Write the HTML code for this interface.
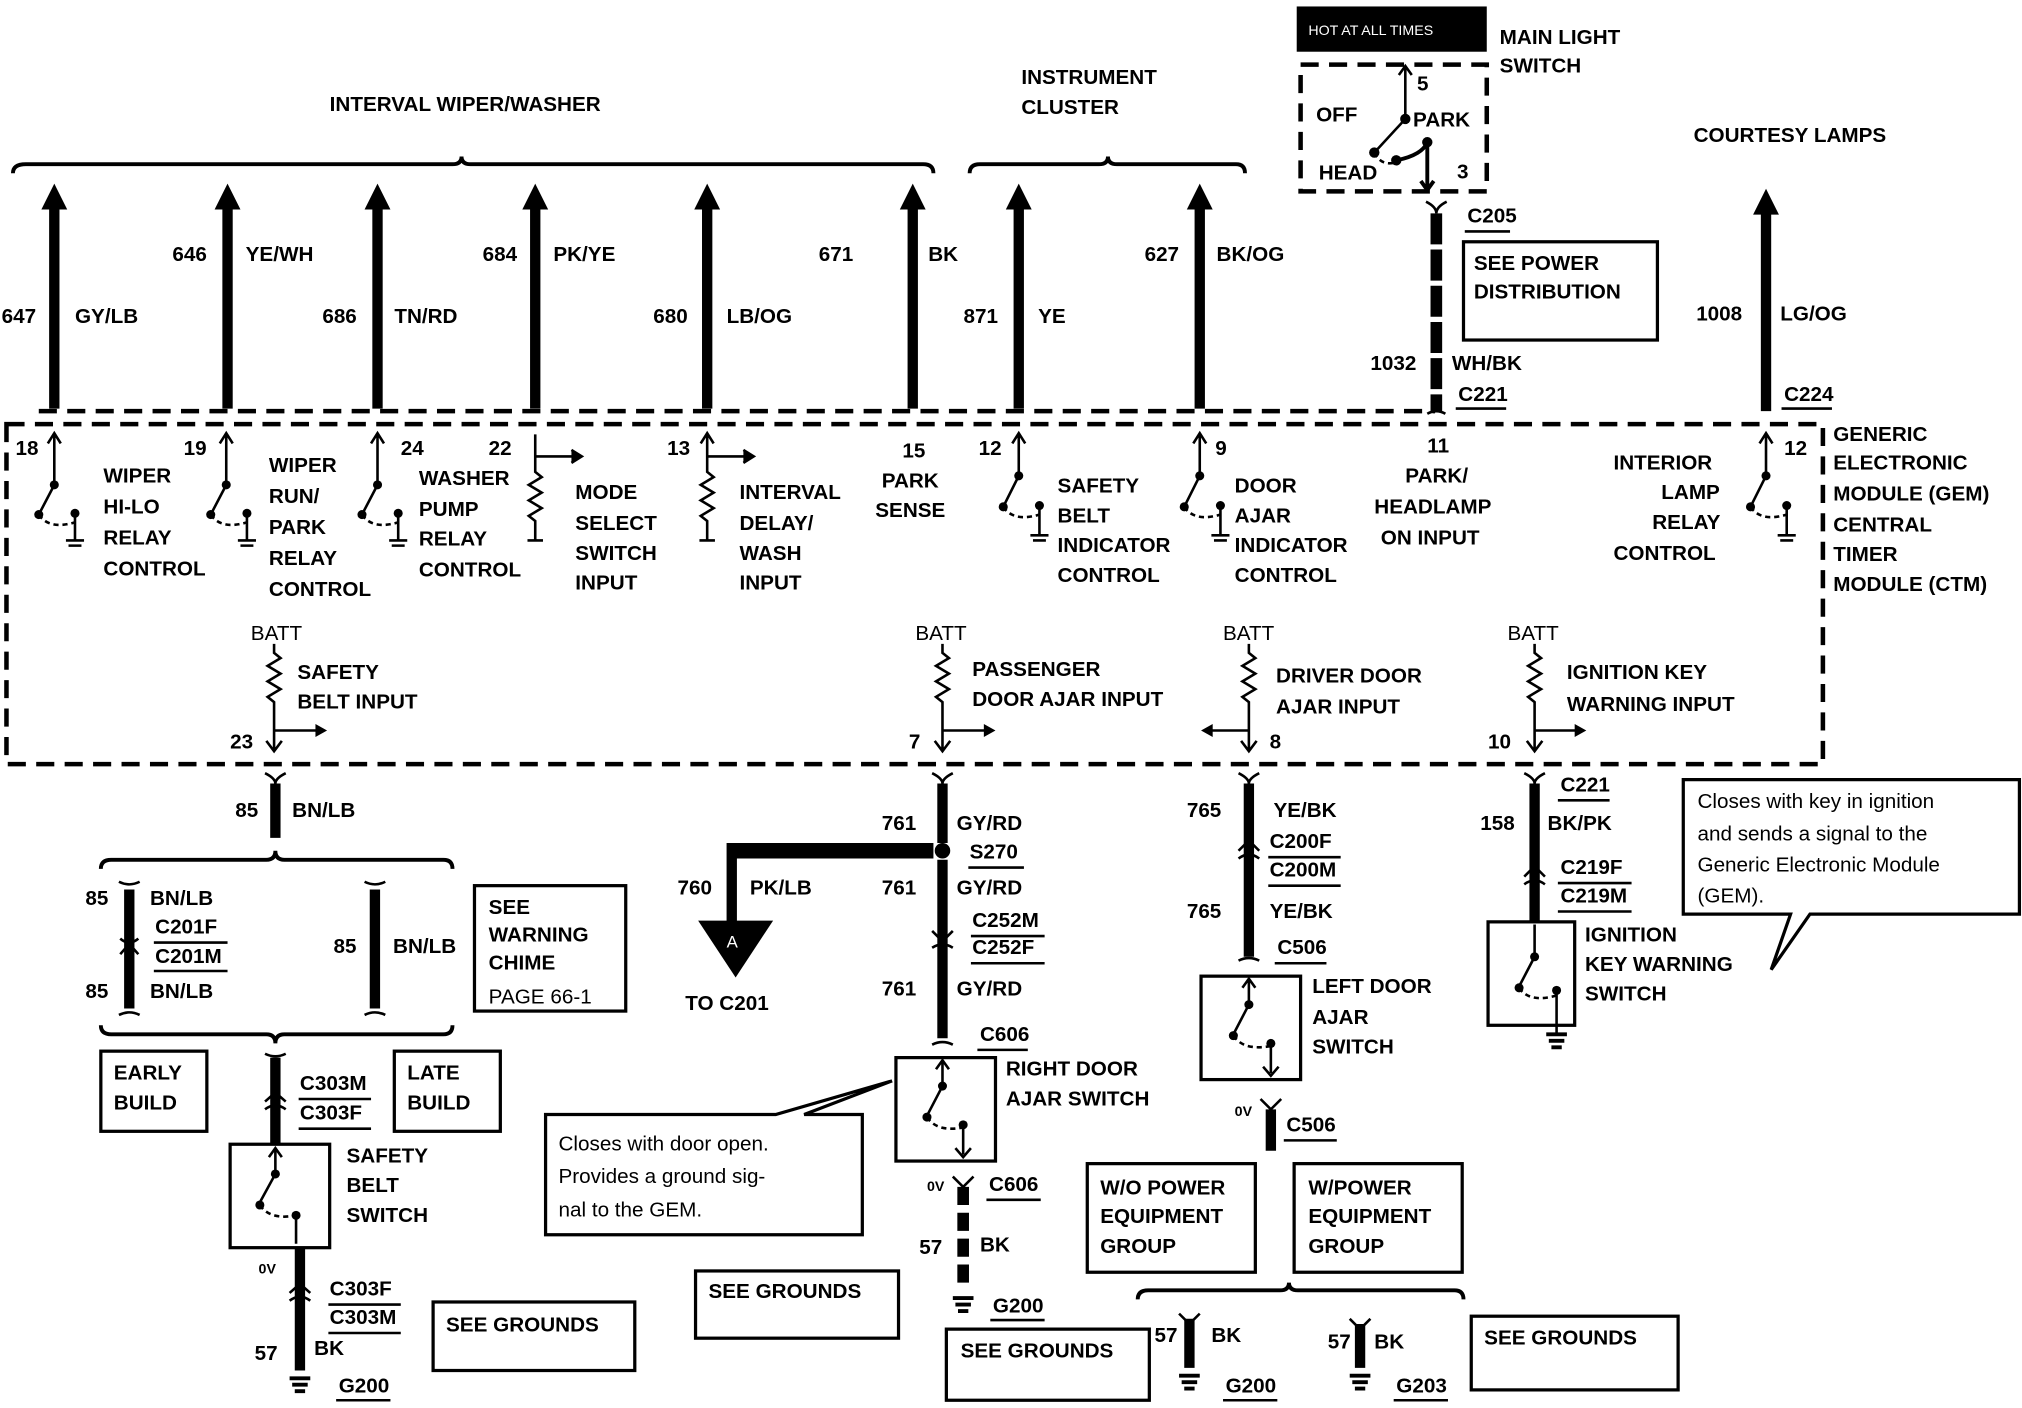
<!DOCTYPE html>
<html><head><meta charset="utf-8"><style>
html,body{margin:0;padding:0;background:#fff;}
svg{display:block;}
text{font-family:"Liberation Sans",sans-serif;font-weight:bold;font-size:16px;fill:#000;}
.r{font-weight:normal;font-size:16px;}
.w{stroke:#000;stroke-width:8;fill:none;}
.t{stroke:#000;stroke-width:2;fill:none;}
.b{stroke:#000;stroke-width:3;fill:none;}
.box{stroke:#000;stroke-width:2.5;fill:#fff;}
.d{stroke:#000;stroke-width:3.5;fill:none;stroke-dasharray:14 8;}
</style></head><body>
<svg width="2022" height="1408" viewBox="0 0 1564 1089" preserveAspectRatio="none" xmlns="http://www.w3.org/2000/svg">
<rect width="1564" height="1089" fill="#fff"/>

<!-- top brackets -->
<text x="255" y="86">INTERVAL WIPER/WASHER</text>
<path class="b" d="M10,134 Q10,127 20,127 L350,127 Q357,127 357,121 Q357,127 364,127 L714,127 Q722,127 722,134"/>
<text x="790" y="65">INSTRUMENT</text>
<text x="790" y="88">CLUSTER</text>
<path class="b" d="M750,134 Q750,127 758,127 L850,127 Q857,127 857,121 Q857,127 864,127 L956,127 Q963,127 963,134"/>

<!-- main light switch -->
<rect x="1003" y="5" width="147" height="35" fill="#000"/>
<text x="1012" y="27" style="fill:#fff;font-size:11px;font-weight:normal">HOT AT ALL TIMES</text>
<text x="1160" y="34">MAIN LIGHT</text>
<text x="1160" y="56">SWITCH</text>
<rect x="1006" y="50" width="144" height="98" class="d"/>
<text x="1018" y="94">OFF</text>
<text x="1093" y="98">PARK</text>
<text x="1020" y="139">HEAD</text>
<text x="1096" y="70">5</text>
<text x="1127" y="138">3</text>
<path class="t" d="M1087,92 L1087,52 M1082,58 L1087,51 L1092,58 M1087,92 L1064,117"/>
<circle cx="1087" cy="92" r="4"/><circle cx="1063" cy="118" r="4"/><circle cx="1080" cy="124" r="4"/><circle cx="1104" cy="110" r="4"/>
<path class="t" stroke-dasharray="4 3" d="M1063,118 Q1068,128 1078,126"/>
<path class="b" d="M1080,124 Q1100,120 1104,110 L1104,146 M1099,140 L1104,147 L1109,140"/>

<!-- C205 / 1032 wire -->
<path class="t" d="M1103,156 Q1111,160 1111,165 Q1111,160 1119,156"/>
<line x1="1111" y1="165" x2="1111" y2="318" stroke="#000" stroke-width="9" stroke-dasharray="24 4"/>
<path class="t" d="M1104,320 Q1111,316 1118,320"/>
<text x="1135" y="172">C205</text><line x1="1133" y1="179" x2="1168" y2="179" class="t"/>
<rect x="1132" y="187" width="150" height="76" class="box"/>
<text x="1140" y="209">SEE POWER</text>
<text x="1140" y="231">DISTRIBUTION</text>
<text x="1060" y="286">1032</text>
<text x="1123" y="286">WH/BK</text>
<text x="1128" y="310">C221</text><line x1="1126" y1="316" x2="1165" y2="316" class="t"/>

<!-- courtesy -->
<text x="1310" y="110">COURTESY LAMPS</text>
<line x1="1366" y1="160" x2="1366" y2="318" class="w"/>
<path d="M1356,166 L1366,146 L1376,166 Z"/>
<text x="1312" y="248">1008</text>
<text x="1377" y="248">LG/OG</text>
<text x="1380" y="310">C224</text><line x1="1378" y1="316" x2="1417" y2="316" class="t"/>

<!-- main up wires -->
<g>
<line x1="42" y1="158" x2="42" y2="316" class="w"/><path d="M32,162 L42,142 L52,162 Z"/>
<line x1="176" y1="158" x2="176" y2="316" class="w"/><path d="M166,162 L176,142 L186,162 Z"/>
<line x1="292" y1="158" x2="292" y2="316" class="w"/><path d="M282,162 L292,142 L302,162 Z"/>
<line x1="414" y1="158" x2="414" y2="316" class="w"/><path d="M404,162 L414,142 L424,162 Z"/>
<line x1="547" y1="158" x2="547" y2="316" class="w"/><path d="M537,162 L547,142 L557,162 Z"/>
<line x1="706" y1="158" x2="706" y2="316" class="w"/><path d="M696,162 L706,142 L716,162 Z"/>
<line x1="788" y1="158" x2="788" y2="316" class="w"/><path d="M778,162 L788,142 L798,162 Z"/>
<line x1="928" y1="158" x2="928" y2="316" class="w"/><path d="M918,162 L928,142 L938,162 Z"/>
</g>
<text x="28" y="250" text-anchor="end">647</text><text x="58" y="250">GY/LB</text>
<text x="160" y="202" text-anchor="end">646</text><text x="190" y="202">YE/WH</text>
<text x="276" y="250" text-anchor="end">686</text><text x="305" y="250">TN/RD</text>
<text x="400" y="202" text-anchor="end">684</text><text x="428" y="202">PK/YE</text>
<text x="532" y="250" text-anchor="end">680</text><text x="562" y="250">LB/OG</text>
<text x="660" y="202" text-anchor="end">671</text><text x="718" y="202">BK</text>
<text x="772" y="250" text-anchor="end">871</text><text x="803" y="250">YE</text>
<text x="912" y="202" text-anchor="end">627</text><text x="941" y="202">BK/OG</text>

<line x1="30" y1="318" x2="1110" y2="318" class="d"/>
<!-- GEM box -->
<rect x="5" y="328" width="1405" height="263" class="d"/>

<!-- relay controls -->
<g class="t">
<path d="M42,375 L42,336 M37,343 L42,335 L47,343 M42,375 L30,398"/>
<path d="M175,375 L175,336 M170,343 L175,335 L180,343 M175,375 L163,398"/>
<path d="M292,375 L292,336 M287,343 L292,335 L297,343 M292,375 L280,398"/>
<path d="M788,368 L788,336 M783,343 L788,335 L793,343 M788,368 L776,392"/>
<path d="M928,368 L928,336 M923,343 L928,335 L933,343 M928,368 L916,392"/>
<path d="M1366,368 L1366,336 M1361,343 L1366,335 L1371,343 M1366,368 L1354,392"/>
<path stroke-dasharray="4 3" d="M30,398 Q38,410 58,404 M163,398 Q171,410 191,404 M280,398 Q288,410 308,404 M776,392 Q784,404 804,398 M916,392 Q924,404 944,398 M1354,392 Q1362,404 1382,398"/>
<path d="M58,397 L58,418 M191,397 L191,418 M308,397 L308,418 M804,391 L804,414 M944,391 L944,414 M1382,391 L1382,414"/>
</g>
<g>
<circle cx="42" cy="375" r="3.5"/><circle cx="30" cy="398" r="3.5"/><circle cx="58" cy="397" r="3.5"/><path d="M51,418 h14 M53,422 h10"  class="t"/>
<circle cx="175" cy="375" r="3.5"/><circle cx="163" cy="398" r="3.5"/><circle cx="191" cy="397" r="3.5"/><path d="M184,418 h14 M186,422 h10" class="t"/>
<circle cx="292" cy="375" r="3.5"/><circle cx="280" cy="398" r="3.5"/><circle cx="308" cy="397" r="3.5"/><path d="M301,418 h14 M303,422 h10" class="t"/>
<circle cx="788" cy="368" r="3.5"/><circle cx="776" cy="392" r="3.5"/><circle cx="804" cy="391" r="3.5"/><path d="M797,414 h14 M799,418 h10" class="t"/>
<circle cx="928" cy="368" r="3.5"/><circle cx="916" cy="392" r="3.5"/><circle cx="944" cy="391" r="3.5"/><path d="M937,414 h14 M939,418 h10" class="t"/>
<circle cx="1366" cy="368" r="3.5"/><circle cx="1354" cy="392" r="3.5"/><circle cx="1382" cy="391" r="3.5"/><path d="M1375,414 h14 M1377,418 h10" class="t"/>
</g>
<text x="12" y="352">18</text>
<text x="80" y="373">WIPER</text><text x="80" y="397">HI-LO</text><text x="80" y="421">RELAY</text><text x="80" y="445">CONTROL</text>
<text x="142" y="352">19</text>
<text x="208" y="365">WIPER</text><text x="208" y="389">RUN/</text><text x="208" y="413">PARK</text><text x="208" y="437">RELAY</text><text x="208" y="461">CONTROL</text>
<text x="310" y="352">24</text>
<text x="324" y="375">WASHER</text><text x="324" y="399">PUMP</text><text x="324" y="422">RELAY</text><text x="324" y="446">CONTROL</text>

<!-- inputs with resistor -->
<g class="t">
<path d="M414,336 L414,365 l5,4 l-10,6 l10,6 l-10,6 l10,6 l-10,6 l5,4 L414,418 M408,418 h12 M414,353 L448,353"/>
<path d="M442,348 L450,353 L442,358" fill="#000"/>
<path d="M547,336 L547,365 l5,4 l-10,6 l10,6 l-10,6 l10,6 l-10,6 l5,4 L547,418 M541,418 h12 M547,353 L581,353 M542,343 L547,335 L552,343"/>
<path d="M575,348 L583,353 L575,358" fill="#000"/>
</g>
<text x="378" y="352">22</text>
<text x="445" y="386">MODE</text><text x="445" y="410">SELECT</text><text x="445" y="433">SWITCH</text><text x="445" y="456">INPUT</text>
<text x="516" y="352">13</text>
<text x="572" y="386">INTERVAL</text><text x="572" y="410">DELAY/</text><text x="572" y="433">WASH</text><text x="572" y="456">INPUT</text>
<text x="698" y="354">15</text><text x="682" y="377">PARK</text><text x="677" y="400">SENSE</text>
<text x="757" y="352">12</text>
<text x="818" y="381">SAFETY</text><text x="818" y="404">BELT</text><text x="818" y="427">INDICATOR</text><text x="818" y="450">CONTROL</text>
<text x="940" y="352">9</text>
<text x="955" y="381">DOOR</text><text x="955" y="404">AJAR</text><text x="955" y="427">INDICATOR</text><text x="955" y="450">CONTROL</text>
<text x="1104" y="350">11</text><text x="1087" y="373">PARK/</text><text x="1063" y="397">HEADLAMP</text><text x="1068" y="421">ON  INPUT</text>
<text x="1248" y="363">INTERIOR</text><text x="1285" y="386">LAMP</text><text x="1278" y="409">RELAY</text><text x="1248" y="433">CONTROL</text>
<text x="1380" y="352">12</text>
<text x="1418" y="341">GENERIC</text><text x="1418" y="363">ELECTRONIC</text><text x="1418" y="387">MODULE (GEM)</text><text x="1418" y="411">CENTRAL</text><text x="1418" y="434">TIMER</text><text x="1418" y="457">MODULE (CTM)</text>

<!-- BATT inputs -->
<g class="t">
<path d="M212,498 L212,505 l5,4 l-10,6 l10,6 l-10,6 l10,6 l-10,6 l5,4 L212,580 M206,573 L212,581 L218,573 M212,565 L246,565"/>
<path d="M729,498 L729,505 l5,4 l-10,6 l10,6 l-10,6 l10,6 l-10,6 l5,4 L729,580 M723,573 L729,581 L735,573 M729,565 L763,565"/>
<path d="M966,498 L966,505 l5,4 l-10,6 l10,6 l-10,6 l10,6 l-10,6 l5,4 L966,580 M960,573 L966,581 L972,573 M966,565 L936,565"/>
<path d="M1187,498 L1187,505 l5,4 l-10,6 l10,6 l-10,6 l10,6 l-10,6 l5,4 L1187,580 M1181,573 L1187,581 L1193,573 M1187,565 L1220,565"/>
</g>
<path d="M244,560 L253,565 L244,570 Z M761,560 L770,565 L761,570 Z M938,560 L929,565 L938,570 Z M1218,560 L1227,565 L1218,570 Z"/>
<text x="194" y="495" class="r">BATT</text><text x="708" y="495" class="r">BATT</text><text x="946" y="495" class="r">BATT</text><text x="1166" y="495" class="r">BATT</text>
<text x="230" y="525">SAFETY</text><text x="230" y="548">BELT INPUT</text><text x="178" y="579">23</text>
<text x="752" y="523">PASSENGER</text><text x="752" y="546">DOOR AJAR INPUT</text><text x="703" y="579">7</text>
<text x="987" y="528">DRIVER DOOR</text><text x="987" y="552">AJAR INPUT</text><text x="982" y="579">8</text>
<text x="1212" y="525">IGNITION KEY</text><text x="1212" y="550">WARNING INPUT</text><text x="1151" y="579">10</text>

<!-- safety belt section -->
<path class="t" d="M205,598 Q213,602 213,606 Q213,602 221,598"/>
<line x1="213" y1="606" x2="213" y2="648" class="w"/>
<text x="182" y="632">85</text><text x="226" y="632">BN/LB</text>
<path class="b" d="M78,672 Q78,665 86,665 L206,665 Q213,665 213,658 Q213,665 220,665 L343,665 Q350,665 350,672"/>
<line x1="100" y1="688" x2="100" y2="780" class="w"/>
<path class="t" d="M92,682 Q100,686 108,682 M92,785 Q100,781 108,785 M93,738 L100,730 L107,738 M93,726 Q100,732 107,726" stroke-width="3"/>
<text x="66" y="700">85</text><text x="116" y="700">BN/LB</text>
<text x="120" y="722">C201F</text><line x1="119" y1="729" x2="176" y2="729" class="t"/>
<text x="120" y="745">C201M</text><line x1="119" y1="751" x2="176" y2="751" class="t"/>
<text x="66" y="772">85</text><text x="116" y="772">BN/LB</text>
<line x1="290" y1="688" x2="290" y2="780" class="w"/>
<path class="t" d="M282,682 Q290,686 298,682 M282,785 Q290,781 298,785" stroke-width="3"/>
<text x="258" y="737">85</text><text x="304" y="737">BN/LB</text>
<rect x="367" y="685" width="117" height="97" class="box"/>
<text x="378" y="707">SEE</text><text x="378" y="728">WARNING</text><text x="378" y="750">CHIME</text><text x="378" y="776" class="r">PAGE 66-1</text>
<path class="b" d="M78,793 Q78,800 86,800 L206,800 Q213,800 213,807 Q213,800 220,800 L343,800 Q350,800 350,793"/>
<rect x="78" y="813" width="82" height="62" class="box"/><text x="88" y="835">EARLY</text><text x="88" y="858">BUILD</text>
<rect x="305" y="813" width="82" height="62" class="box"/><text x="315" y="835">LATE</text><text x="315" y="858">BUILD</text>
<line x1="213" y1="818" x2="213" y2="885" class="w"/>
<path class="t" d="M205,815 Q213,819 221,815 M205,852 L213,845 L221,852 M205,858 Q213,852 221,858" stroke-width="3"/>
<text x="232" y="843">C303M</text><line x1="231" y1="850" x2="287" y2="850" class="t"/>
<text x="232" y="866">C303F</text><line x1="231" y1="873" x2="287" y2="873" class="t"/>
<rect x="178" y="885" width="77" height="80" class="box" stroke-width="3"/>
<g class="t"><path d="M213,888 L213,908 L201,930 M208,895 L213,888 L218,895 M229,940 L229,962"/><path stroke-dasharray="4 3" d="M201,932 Q209,944 229,940"/></g>
<circle cx="213" cy="908" r="3.5"/><circle cx="201" cy="932" r="3.5"/><circle cx="229" cy="940" r="3.5"/>
<text x="268" y="899">SAFETY</text><text x="268" y="922">BELT</text><text x="268" y="945">SWITCH</text>
<line x1="232" y1="965" x2="232" y2="1060" class="w"/>
<path class="t" d="M224,1000 L232,993 L240,1000 M224,1006 Q232,1000 240,1006" stroke-width="3"/>
<text x="200" y="985" style="font-size:11px">0V</text>
<text x="255" y="1002">C303F</text><line x1="254" y1="1009" x2="310" y2="1009" class="t"/>
<text x="255" y="1024">C303M</text><line x1="254" y1="1031" x2="310" y2="1031" class="t"/>
<text x="197" y="1052">57</text><text x="243" y="1048">BK</text>
<path d="M224,1066 h16 M226,1071 h12 M228,1076 h8" class="b"/>
<text x="262" y="1077">G200</text><line x1="260" y1="1083" x2="302" y2="1083" class="t"/>
<rect x="335" y="1007" width="156" height="53" class="box"/><text x="345" y="1030">SEE GROUNDS</text>

<!-- right door -->
<path class="t" d="M721,598 Q729,602 729,606 Q729,602 737,598"/>
<line x1="729" y1="606" x2="729" y2="652" class="w"/>
<circle cx="729" cy="658" r="6"/>
<line x1="729" y1="665" x2="729" y2="803" class="w"/>
<path class="t" d="M721,720 L729,728 L737,720 M721,733 Q729,728 737,733 M721,808 Q729,804 737,808" stroke-width="3"/>
<line x1="722" y1="658" x2="566" y2="658" stroke="#000" stroke-width="12"/>
<line x1="566" y1="652" x2="566" y2="714" class="w"/>
<path d="M540,712 L598,712 L569,756 Z"/>
<text x="562" y="733" style="fill:#fff;font-weight:normal;font-size:13px">A</text>
<text x="682" y="642">761</text><text x="740" y="642">GY/RD</text>
<text x="750" y="664">S270</text><line x1="749" y1="671" x2="792" y2="671" class="t"/>
<text x="524" y="692">760</text><text x="580" y="692">PK/LB</text><text x="530" y="781">TO C201</text>
<text x="682" y="692">761</text><text x="740" y="692">GY/RD</text>
<text x="752" y="717">C252M</text><line x1="751" y1="724" x2="808" y2="724" class="t"/>
<text x="752" y="738">C252F</text><line x1="751" y1="745" x2="808" y2="745" class="t"/>
<text x="682" y="770">761</text><text x="740" y="770">GY/RD</text>
<text x="758" y="805">C606</text><line x1="756" y1="812" x2="795" y2="812" class="t"/>
<rect x="693" y="818" width="77" height="80" class="box" stroke-width="3"/>
<g class="t"><path d="M729,820 L729,840 L717,863 M724,827 L729,820 L734,827 M745,870 L745,893 M739,888 L745,895 L751,888"/><path stroke-dasharray="4 3" d="M717,864 Q725,876 745,872"/></g>
<circle cx="729" cy="840" r="3.5"/><circle cx="717" cy="864" r="3.5"/><circle cx="745" cy="870" r="3.5"/>
<text x="778" y="832">RIGHT DOOR</text><text x="778" y="855">AJAR SWITCH</text>
<text x="717" y="921" style="font-size:11px">0V</text>
<path class="t" d="M737,910 L745,918 L753,910" stroke-width="3"/>
<line x1="745" y1="918" x2="745" y2="998" stroke="#000" stroke-width="9" stroke-dasharray="14 6"/>
<text x="765" y="921">C606</text><line x1="763" y1="928" x2="805" y2="928" class="t"/>
<text x="711" y="970">57</text><text x="758" y="968">BK</text>
<path d="M737,1004 h16 M739,1009 h12 M741,1014 h8" class="b"/>
<text x="768" y="1015">G200</text><line x1="766" y1="1021" x2="808" y2="1021" class="t"/>
<path d="M422,862 L600,862 L690,836 L622,862 L667,862 L667,955 L422,955 Z" class="box"/>
<text x="432" y="890" class="r">Closes with door open.</text>
<text x="432" y="915" class="r">Provides a ground sig-</text>
<text x="432" y="941" class="r">nal to the GEM.</text>
<rect x="538" y="983" width="157" height="52" class="box"/><text x="548" y="1004">SEE GROUNDS</text>
<rect x="732" y="1028" width="157" height="55" class="box"/><text x="743" y="1050">SEE GROUNDS</text>

<!-- left door -->
<path class="t" d="M958,598 Q966,602 966,606 Q966,602 974,598"/>
<line x1="966" y1="606" x2="966" y2="740" class="w"/>
<path class="t" d="M958,658 L966,650 L974,658 M958,664 Q966,658 974,664 M958,743 Q966,739 974,743" stroke-width="3"/>
<text x="918" y="632">765</text><text x="985" y="632">YE/BK</text>
<text x="982" y="656">C200F</text><line x1="981" y1="663" x2="1037" y2="663" class="t"/>
<text x="982" y="678">C200M</text><line x1="981" y1="685" x2="1037" y2="685" class="t"/>
<text x="918" y="710">765</text><text x="982" y="710">YE/BK</text>
<text x="988" y="738">C506</text><line x1="986" y1="745" x2="1026" y2="745" class="t"/>
<rect x="929" y="755" width="77" height="80" class="box" stroke-width="3"/>
<g class="t"><path d="M966,757 L966,777 L954,800 M961,764 L966,757 L971,764 M983,807 L983,830 M977,825 L983,832 L989,825"/><path stroke-dasharray="4 3" d="M954,801 Q962,813 983,809"/></g>
<circle cx="966" cy="777" r="3.5"/><circle cx="954" cy="801" r="3.5"/><circle cx="983" cy="807" r="3.5"/>
<text x="1015" y="768">LEFT DOOR</text><text x="1015" y="792">AJAR</text><text x="1015" y="815">SWITCH</text>
<text x="955" y="863" style="font-size:11px">0V</text>
<path class="t" d="M975,850 L983,858 L991,850" stroke-width="3"/>
<line x1="983" y1="858" x2="983" y2="890" class="w"/>
<text x="995" y="875">C506</text><line x1="993" y1="882" x2="1034" y2="882" class="t"/>
<rect x="841" y="900" width="130" height="84" class="box"/>
<text x="851" y="924">W/O POWER</text><text x="851" y="946">EQUIPMENT</text><text x="851" y="969">GROUP</text>
<rect x="1001" y="900" width="130" height="84" class="box"/>
<text x="1012" y="924">W/POWER</text><text x="1012" y="946">EQUIPMENT</text><text x="1012" y="969">GROUP</text>
<path class="b" d="M880,1005 Q880,998 888,998 L990,998 Q997,998 997,992 Q997,998 1004,998 L1125,998 Q1132,998 1132,1005"/>
<line x1="920" y1="1020" x2="920" y2="1058" class="w"/>
<path class="t" d="M912,1016 L920,1024 L928,1016" stroke-width="3"/>
<text x="893" y="1038">57</text><text x="937" y="1038">BK</text>
<path d="M912,1064 h16 M914,1069 h12 M916,1074 h8" class="b"/>
<text x="948" y="1077">G200</text><line x1="946" y1="1083" x2="988" y2="1083" class="t"/>
<line x1="1052" y1="1024" x2="1052" y2="1058" class="w"/>
<path class="t" d="M1044,1020 L1052,1028 L1060,1020" stroke-width="3"/>
<text x="1027" y="1043">57</text><text x="1063" y="1043">BK</text>
<path d="M1044,1064 h16 M1046,1069 h12 M1048,1074 h8" class="b"/>
<text x="1080" y="1077">G203</text><line x1="1078" y1="1083" x2="1120" y2="1083" class="t"/>
<rect x="1138" y="1018" width="160" height="57" class="box"/><text x="1148" y="1040">SEE GROUNDS</text>

<!-- ignition -->
<path class="t" d="M1179,598 Q1187,602 1187,606 Q1187,602 1195,598"/>
<line x1="1187" y1="606" x2="1187" y2="713" class="w"/>
<path class="t" d="M1179,678 L1187,670 L1195,678 M1179,684 Q1187,678 1195,684" stroke-width="3"/>
<text x="1207" y="612">C221</text><line x1="1205" y1="619" x2="1245" y2="619" class="t"/>
<text x="1145" y="642">158</text><text x="1197" y="642">BK/PK</text>
<text x="1207" y="676">C219F</text><line x1="1205" y1="683" x2="1262" y2="683" class="t"/>
<text x="1207" y="698">C219M</text><line x1="1205" y1="705" x2="1262" y2="705" class="t"/>
<rect x="1151" y="713" width="67" height="80" class="box" stroke-width="3"/>
<g class="t"><path d="M1187,715 L1187,740 L1175,763 M1204,766 L1204,800"/><path stroke-dasharray="4 3" d="M1175,764 Q1183,776 1204,770"/></g>
<circle cx="1187" cy="740" r="3.5"/><circle cx="1175" cy="764" r="3.5"/><circle cx="1204" cy="766" r="3.5"/>
<path d="M1196,800 h16 M1198,805 h12 M1200,810 h8" class="b"/>
<text x="1226" y="728">IGNITION</text><text x="1226" y="751">KEY WARNING</text><text x="1226" y="774">SWITCH</text>
<path d="M1302,603 L1562,603 L1562,707 L1400,707 L1370,750 L1385,707 L1302,707 Z" class="box"/>
<text x="1313" y="625" class="r">Closes with key in ignition</text>
<text x="1313" y="650" class="r">and sends a signal to the</text>
<text x="1313" y="674" class="r">Generic Electronic Module</text>
<text x="1313" y="698" class="r">(GEM).</text>
</svg>
</body></html>
